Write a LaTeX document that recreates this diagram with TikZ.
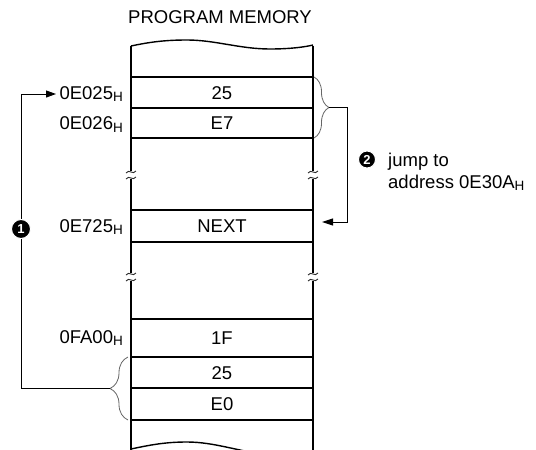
\documentclass[tikz,border=0pt]{standalone}
\usepackage{fontspec}
\setmainfont{Liberation Sans}
\usetikzlibrary{arrows.meta,decorations.pathreplacing}
\newcommand{\subH}{\raisebox{-2.5pt}{\fontsize{13.5}{14}\selectfont H}}
\begin{document}
\begin{tikzpicture}[x=1pt,y=-1pt,
  every node/.style={inner sep=0pt, font=\fontsize{18.5}{22}\selectfont},
  wall/.style={line width=2.2pt},
  cellline/.style={line width=1.2pt},
  wave/.style={line width=1.4pt},
  conn/.style={line width=1pt},
  bracestyle/.style={draw=black!60, line width=0.8pt, decorate},
  brk/.style={line width=0.9pt, draw=black!85},
  addr/.style={anchor=base east},
  val/.style={anchor=base},
  num/.style={circle, fill=black, draw=white, line width=1pt, text=white,
    font=\fontsize{13}{13}\selectfont\bfseries}
]
\useasboundingbox (0,0) rectangle (536,450);
\clip (0,0) rectangle (536,450);

% title
\node[anchor=base] (title) at (220,23) {PROGRAM MEMORY};

% wavy top and bottom
\draw[wave] (131,46) .. controls (150,42) and (165,40) .. (187,40)
  .. controls (215,40) and (240,49) .. (270,49)
  .. controls (290,49) and (305,47) .. (313,45);
\draw[wave] (131,449) .. controls (150,445) and (165,442) .. (187,442)
  .. controls (215,442) and (240,452) .. (270,455)
  .. controls (290,456) and (305,453) .. (313,451);

% walls with breaks
\foreach \x in {131,313}{
  \draw[wall] (\x,46) -- (\x,171);
  \draw[wall] (\x,179) -- (\x,273);
  \draw[wall] (\x,281) -- (\x,452);
  \foreach \y in {172,178,274,280}{
    \draw[brk] (\x-5,\y+1) .. controls (\x-2,\y-3.5) and (\x+2,\y+3.5) .. (\x+5,\y-1);
  }
}

% cell lines
\foreach \y in {77,108,138,210,242,319,357,388,420}{
  \draw[cellline] (131,\y) -- (313,\y);
}

% cell contents
\node[val] (v25a) at (222,99) {25};
\node[val] (vE7) at (222,129.5) {E7};
\node[val] (vnext) at (222,232.5) {NEXT};
\node[val] (v1F) at (222,344.5) {1F};
\node[val] (v25b) at (222,379) {25};
\node[val] (vE0) at (222,410.5) {E0};

% addresses
\node[addr] (a025) at (123,99) {0E025\subH};
\node[addr] (a026) at (123,129.5) {0E026\subH};
\node[addr] (a725) at (123,232) {0E725\subH};
\node[addr] (afa0) at (123,343) {0FA00\subH};

% braces
\draw[bracestyle, decoration={brace,amplitude=15pt}] (314,77) -- (314,138);
\coordinate (brR) at (329,107.5);
\draw[bracestyle, decoration={brace,amplitude=18pt}] (128,420) -- (128,357);
\coordinate (brL) at (110,388.5);

% arrow 1
\coordinate (tip1) at (56,94);
\draw[conn,-{Triangle[length=10pt,width=7pt]}] (brL) -- ++(-89,0) |- (tip1);
\node[num, minimum size=19pt] (n1) at (21,229) {1};

% arrow 2
\coordinate (tip2) at (322,222);
\draw[conn,-{Triangle[length=11pt,width=7pt]}] (brR) -- ++(18,0) |- (tip2);
\node[num, minimum size=17pt] (n2) at (367,159.5) {2};
\node[anchor=base west] (j1) at (388,166) {jump to};
\node[anchor=base west] (j2) at (388,188) {address 0E30A\subH};
\end{tikzpicture}
\end{document}
